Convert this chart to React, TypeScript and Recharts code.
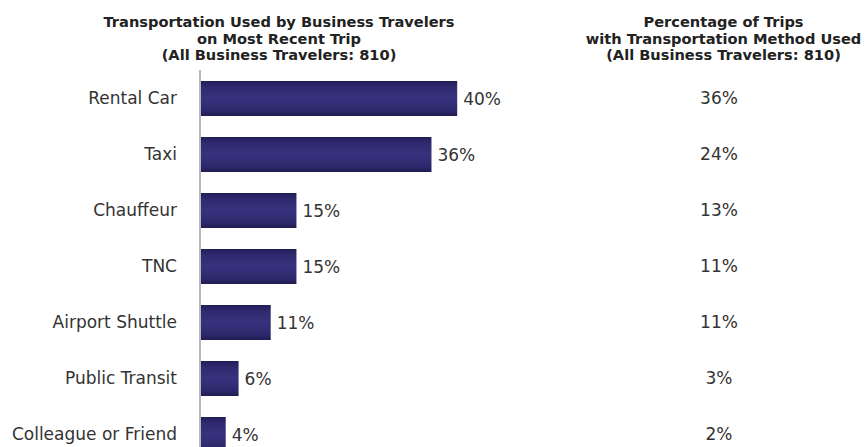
import React from 'react';
import { BarChart, Bar, XAxis, YAxis, LabelList } from 'recharts';

const categories = ['Rental Car', 'Taxi', 'Chauffeur', 'TNC', 'Airport Shuttle', 'Public Transit', 'Colleague or Friend'];
const usedShare = [40, 36, 15, 15, 11, 6, 4];
const tripShare = [36, 24, 13, 11, 11, 3, 2];
const leftTitle = ['Transportation Used by Business Travelers', 'on Most Recent Trip', '(All Business Travelers: 810)'];
const rightTitle = ['Percentage of Trips', 'with Transportation Method Used', '(All Business Travelers: 810)'];

const chartData = categories.map((name, i) => ({ name, used: usedShare[i], trips: tripShare[i] }));

const FONT = '"DejaVu Sans", Verdana, sans-serif';

const CategoryTick = (props: any) => {
  const { x, y, payload } = props;
  return (
    <text x={x} y={y} dy="0.36em" textAnchor="end" fontSize={17} fill="#333" fontFamily={FONT}>
      {payload.value}
    </text>
  );
};

const TripTick = (props: any) => {
  const { x, y, index } = props;
  return (
    <text x={x} y={y} dy="0.36em" textAnchor="middle" fontSize={17} fill="#333" fontFamily={FONT}>
      {tripShare[index]}%
    </text>
  );
};

const titleStyle: React.CSSProperties = {
  position: 'absolute',
  top: 14,
  width: 400,
  textAlign: 'center',
  fontFamily: FONT,
  fontWeight: 'bold',
  fontSize: 14.6,
  lineHeight: '16.5px',
  color: '#222',
  whiteSpace: 'nowrap',
};

export default function App() {
  return (
    <div style={{ position: 'fixed', left: 0, top: 0, width: 868, height: 447, overflow: 'hidden', background: '#fff' }}>
      <div style={{ ...titleStyle, left: 79 }}>
        {leftTitle.map((t) => <div key={t}>{t}</div>)}
      </div>
      <div style={{ ...titleStyle, left: 523.5 }}>
        {rightTitle.map((t) => <div key={t}>{t}</div>)}
      </div>
      <BarChart
        width={868}
        height={462}
        data={chartData}
        layout="vertical"
        margin={{ top: 70, right: 0, bottom: 0, left: 0 }}
      >
        <defs>
          <linearGradient id="barFill" x1="0" y1="0" x2="0" y2="1">
            <stop offset="0%" stopColor="#221e56" />
            <stop offset="18%" stopColor="#2f2a6f" />
            <stop offset="50%" stopColor="#37327d" />
            <stop offset="82%" stopColor="#2f2a6f" />
            <stop offset="100%" stopColor="#201c52" />
          </linearGradient>
        </defs>
        <XAxis type="number" domain={[0, 50]} hide />
        <YAxis
          yAxisId="left"
          type="category"
          dataKey="name"
          width={200}
          axisLine={{ stroke: '#b8b8b8', strokeWidth: 2 }}
          tickLine={false}
          tickMargin={17}
          tick={CategoryTick}
          interval={0}
        />
        <YAxis
          yAxisId="right"
          orientation="right"
          type="category"
          dataKey="name"
          width={346.5}
          axisLine={false}
          tickLine={false}
          tickMargin={191.5}
          tick={TripTick}
          interval={0}
        />
        <Bar yAxisId="left" dataKey="used" fill="url(#barFill)" barSize={35} isAnimationActive={false}>
          <LabelList
            dataKey="used"
            position="right"
            offset={6}
            formatter={(v: any) => `${v}%`}
            style={{ fontSize: 17, fill: '#333', fontFamily: FONT }}
          />
        </Bar>
      </BarChart>
    </div>
  );
}
